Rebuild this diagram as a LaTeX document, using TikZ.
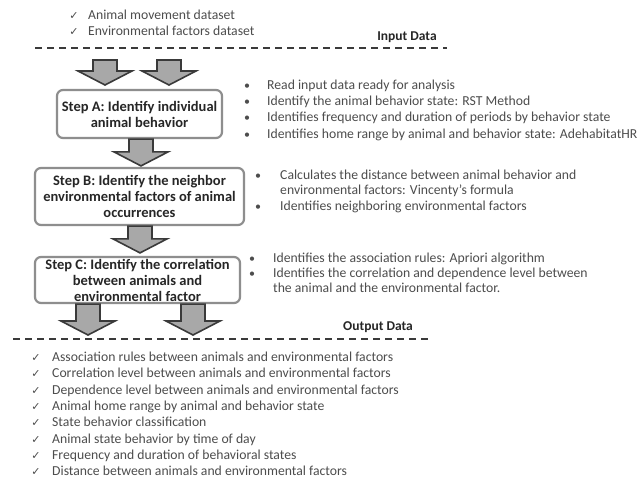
\documentclass[tikz,border=0pt]{standalone}
\usepackage{fontspec}
\setmainfont{Carlito}
\newfontfamily\symf{DejaVu Sans}
\usetikzlibrary{calc}
\definecolor{txt}{HTML}{4D4D4D}
\definecolor{arrfill}{HTML}{A8A8A8}
\definecolor{arrdraw}{HTML}{3A3A3A}
\definecolor{boxdraw}{HTML}{8E8E8E}
\newcommand{\blockarrow}[2]{%
  \path #1 coordinate (bt) #2 coordinate (be);
  \draw[blockarr] let \p1=(bt), \p2=(be) in
    (\x1-12pt,\y1) -- (\x1+12pt,\y1) -- (\x1+12pt,\y2+14pt) -- (\x1+27pt,\y2+14pt)
    -- (\x1,\y2) -- (\x1-27pt,\y2+14pt) -- (\x1-12pt,\y2+14pt) -- cycle;}
\begin{document}
\begin{tikzpicture}[x=1pt,y=-1pt,
  every node/.style={text=txt, inner sep=0pt},
  listtxt/.style={font=\fontsize{13.7}{16}\selectfont, anchor=mid west},
  stepbox/.style={draw=boxdraw, line width=2.2pt, rounded corners=6pt, fill=white,
    font=\bfseries\fontsize{14.5}{16}\selectfont, align=center, text=black!85},
  blockarr/.style={draw=arrdraw, fill=arrfill, line width=1.6pt, line join=miter},
  sep/.style={draw=arrdraw, line width=1.5pt, dash pattern=on 7pt off 5pt},
  chk/.style={font=\symf\fontsize{11}{11}\selectfont, text=black!70, anchor=mid},
  bul/.style={font=\fontsize{12}{16}\selectfont, anchor=mid},
  lab/.style={font=\bfseries\fontsize{13.5}{14}\selectfont, text=black!85, anchor=mid}
]
\useasboundingbox (0,0) rectangle (644,479);
\fill[white] (0,0) rectangle (644,479);

% input data
\node[chk] (c1) at (74,17) {✓};
\node[listtxt] (i1) at (88,17) {Animal movement dataset};
\node[chk] (c2) at (74,33) {✓};
\node[listtxt] (i2) at (88,33) {Environmental factors dataset};
\draw[sep] (35,48) -- (447,48);
\node[lab] (inlab) at (407,38) {Input Data};

% step boxes
\node[stepbox, minimum width=165pt, minimum height=48pt] (A) at (139.5,114)
  {Step A: Identify individual\\animal behavior};
\node[stepbox, minimum width=209pt, minimum height=57pt] (B) at (139.5,196.5)
  {Step B: Identify the neighbor\\environmental factors of animal\\occurrences};
\node[stepbox, minimum width=205pt, minimum height=46pt] (C) at (137.5,280)
  {Step C: Identify the correlation\\between animals and\\environmental factor};

% block arrows
\coordinate (t1) at (105,60); \coordinate (e1) at (105,85);
\coordinate (t2) at (169,60); \coordinate (e2) at (169,85);
\blockarrow{(t1)}{(e1)}
\blockarrow{(t2)}{(e2)}
\blockarrow{($(A.south)+(1.5,0)$)}{($(B.north)+(1.5,-1)$)}
\blockarrow{($(B.south)+(0.5,0)$)}{($(C.north)+(2.5,-3)$)}
\coordinate (o1) at (88,335); \coordinate (o2) at (193,335);
\blockarrow{(C.south -| o1)}{(o1)}
\blockarrow{(C.south -| o2)}{(o2)}

% step A notes
\foreach \yy/\tx [count=\i] in {87/Read input data ready for analysis,
  103/{Identify the animal behavior state: RST Method},
  119/Identifies frequency and duration of periods by behavior state,
  136/{Identifies home range by animal and behavior state: AdehabitatHR}} {
  \node[bul] (ab\i) at (247,\yy) {•};
  \node[listtxt] (at\i) at (267,\yy) {\tx};
}
% step B notes
\node[bul] (bb1) at (258,177) {•};
\node[listtxt] (bt1) at (280,177) {Calculates the distance between animal behavior and};
\node[listtxt] (bt1b) at (280,192) {environmental factors: Vincenty’s formula};
\node[bul] (bb2) at (258,208) {•};
\node[listtxt] (bt2) at (280,208) {Identifies neighboring environmental factors};
% step C notes
\node[bul] (cb1) at (252,260) {•};
\node[listtxt] (ct1) at (273,260) {Identifies the association rules: Apriori algorithm};
\node[bul] (cb2) at (252,275) {•};
\node[listtxt] (ct2) at (273,275) {Identifies the correlation and dependence level between};
\node[listtxt] (ct2b) at (273,290) {the animal and the environmental factor.};

% output data
\draw[sep] (13,339) -- (430,339);
\node[lab] (outlab) at (378,328) {Output Data};
\foreach \yy/\tx [count=\i] in {359/Association rules between animals and environmental factors,
  375/Correlation level between animals and environmental factors,
  392/Dependence level between animals and environmental factors,
  408/Animal home range by animal and behavior state,
  424/State behavior classification,
  441/Animal state behavior by time of day,
  457/Frequency and duration of behavioral states,
  473/Distance between animals and environmental factors} {
  \node[chk] (oc\i) at (36,\yy) {✓};
  \node[listtxt] (ot\i) at (52,\yy) {\tx};
}
\end{tikzpicture}
\end{document}
